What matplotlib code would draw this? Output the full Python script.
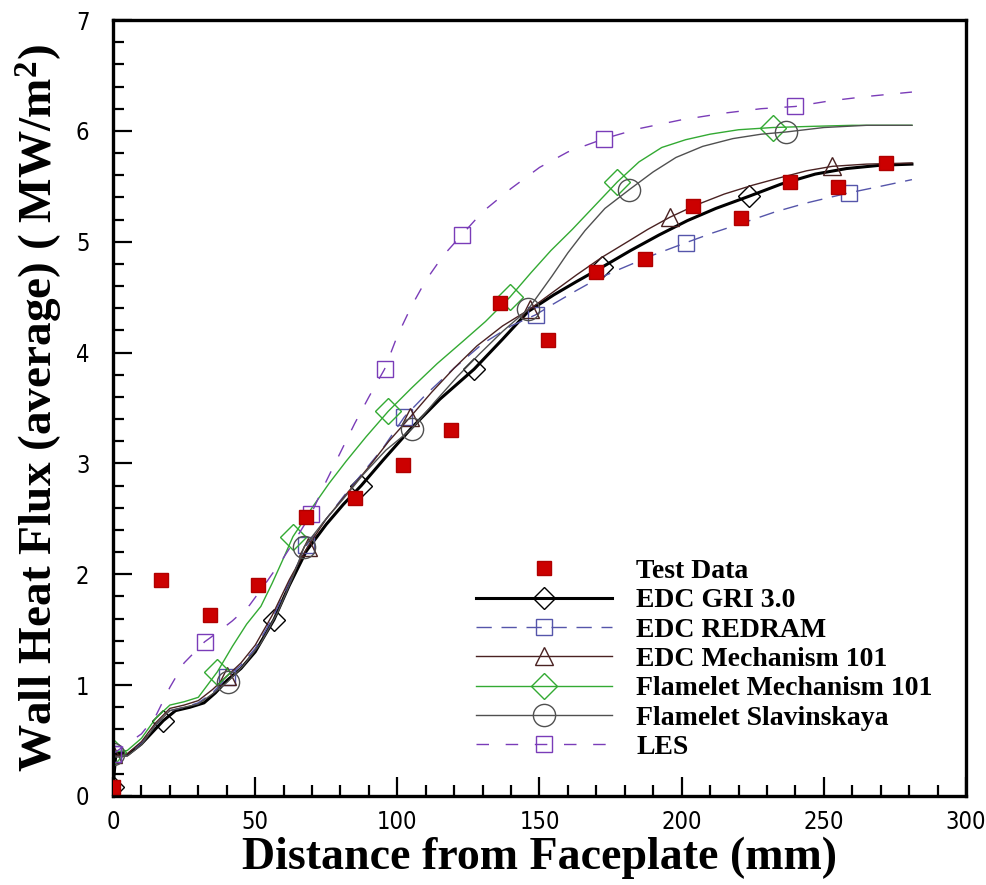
import matplotlib
matplotlib.use("Agg")
import matplotlib.pyplot as plt
from matplotlib.ticker import MultipleLocator

# Measured wall heat flux (red squares)
test_x = [0, 17, 34, 51, 68, 85, 102, 119, 136, 153, 170, 187, 204, 221, 238, 255, 272]
test_q = [0.08, 1.95, 1.63, 1.90, 2.52, 2.69, 2.99, 3.30, 4.45, 4.11, 4.73, 4.84, 5.32, 5.21, 5.54, 5.49, 5.71]

# EDC GRI 3.0
gri_x = [0, 1, 5, 10, 17.7, 22, 27, 32, 36, 40, 45, 50, 56.6, 62, 68, 75, 81, 87.3, 95, 105,
         115, 127, 137, 146, 155, 163, 172, 182, 192, 202, 212, 223.7, 235, 247, 258, 270, 281]
gri_q = [0.08, 0.38, 0.37, 0.47, 0.68, 0.77, 0.80, 0.84, 0.93, 1.04, 1.15, 1.30, 1.59, 1.90, 2.21, 2.45, 2.63, 2.80, 3.03, 3.32,
         3.58, 3.85, 4.12, 4.37, 4.52, 4.64, 4.77, 4.92, 5.06, 5.19, 5.30, 5.41, 5.52, 5.61, 5.66, 5.69, 5.70]
gri_marks = [0, 4, 12, 17, 21, 26, 31]

# EDC REDRAM
redram_x = [0, 1, 5, 10, 15, 20, 25, 30, 35, 40, 45, 50, 56, 62, 68, 75, 81, 88, 95, 102.5,
            110, 120, 130, 140, 148.6, 155, 163, 170, 178, 190, 201.4, 211, 221.6, 233, 244, 258.7, 270, 281]
redram_q = [0.38, 0.36, 0.37, 0.48, 0.64, 0.77, 0.80, 0.84, 0.93, 1.07, 1.18, 1.33, 1.60, 1.93, 2.26, 2.50, 2.70, 2.92, 3.14, 3.42,
            3.62, 3.86, 4.08, 4.24, 4.34, 4.44, 4.56, 4.66, 4.75, 4.88, 4.99, 5.08, 5.17, 5.27, 5.35, 5.44, 5.50, 5.56]
redram_marks = [0, 9, 14, 19, 24, 30, 35]

# EDC Mechanism 101
edc101_x = [0, 1, 5, 10, 15, 20, 25, 30, 35, 40, 45, 50, 56, 62, 68.5, 75, 82, 90, 97, 104.6,
            112, 120, 128, 137, 146.5, 155, 163, 172, 181, 188, 195.8, 205, 215, 225, 235, 244, 253, 265, 281]
edc101_q = [0.38, 0.36, 0.38, 0.49, 0.66, 0.79, 0.82, 0.86, 0.96, 1.08, 1.20, 1.36, 1.63, 1.95, 2.25, 2.50, 2.72, 2.97, 3.20, 3.42,
            3.64, 3.86, 4.06, 4.24, 4.39, 4.55, 4.70, 4.86, 5.00, 5.11, 5.22, 5.33, 5.43, 5.51, 5.58, 5.64, 5.68, 5.70, 5.71]
edc101_marks = [0, 9, 14, 19, 24, 30, 36]

# Flamelet Mechanism 101
flm101_x = [0, 1, 5, 10, 15, 20, 25, 30, 36.7, 42, 47, 52, 56, 59.7, 63.3, 70, 76, 82, 89, 96.8,
            105, 114, 123, 131, 139.6, 147, 154, 161.5, 170, 177.4, 185, 193, 201.4, 210, 220, 232, 245, 260, 281]
flm101_q = [0.40, 0.40, 0.41, 0.52, 0.70, 0.82, 0.85, 0.89, 1.12, 1.35, 1.55, 1.71, 1.92, 2.13, 2.34, 2.60, 2.82, 3.02, 3.24, 3.47,
            3.68, 3.90, 4.10, 4.28, 4.50, 4.72, 4.92, 5.11, 5.34, 5.54, 5.72, 5.85, 5.92, 5.97, 6.01, 6.03, 6.04, 6.05, 6.05]
flm101_marks = [0, 8, 14, 19, 24, 29, 35]

# Flamelet Slavinskaya
slav_x = [0, 1, 5, 10, 15, 20, 25, 30, 35, 40.3, 46, 52, 58, 63, 67.3, 74, 81, 88, 96, 105,
          113, 121, 129, 137, 146, 154.4, 160, 166, 173, 181.6, 190, 198, 207.4, 218, 228, 236.8, 250, 265, 281]
slav_q = [0.38, 0.35, 0.36, 0.46, 0.64, 0.77, 0.80, 0.83, 0.92, 1.03, 1.18, 1.38, 1.66, 1.96, 2.25, 2.47, 2.68, 2.90, 3.12, 3.31,
          3.55, 3.78, 3.99, 4.19, 4.39, 4.69, 4.90, 5.10, 5.30, 5.47, 5.63, 5.76, 5.86, 5.93, 5.97, 5.99, 6.03, 6.05, 6.05]
slav_marks = [0, 9, 14, 19, 24, 29, 35]

# LES
les_x = [0, 5, 10, 15, 20, 25, 32.2, 37, 42, 48, 54, 60, 65, 69.6, 75, 80, 85, 90, 95.5, 100,
         105, 110, 116, 122.6, 130, 140, 150, 160, 172.8, 185, 200, 215, 228, 240, 252, 265, 281]
les_q = [0.38, 0.47, 0.56, 0.72, 0.98, 1.20, 1.39, 1.48, 1.58, 1.72, 1.93, 2.15, 2.35, 2.54, 2.84, 3.10, 3.36, 3.60, 3.85, 4.15,
         4.42, 4.65, 4.87, 5.06, 5.27, 5.48, 5.67, 5.81, 5.93, 6.02, 6.10, 6.16, 6.20, 6.22, 6.27, 6.31, 6.35]
les_marks = [0, 6, 13, 18, 23, 28, 33]

SERIF = ["Liberation Serif", "DejaVu Serif"]
plt.rcParams["mathtext.fontset"] = "custom"
plt.rcParams["mathtext.rm"] = "Liberation Serif:bold"
plt.rcParams["mathtext.it"] = "Liberation Serif:bold"
plt.rcParams["mathtext.bf"] = "Liberation Serif:bold"

fig = plt.figure(figsize=(9.87, 8.85), dpi=100)
ax = fig.add_axes([0.1145, 0.1006, 0.8642, 0.8768])

ax.plot(test_x, test_q, "s", color="#cc0000", markeredgecolor="#b00000",
        markersize=10, linestyle="none", label="Test Data", zorder=5)
ax.plot(gri_x, gri_q, "-", color="black", linewidth=2.2, marker="D", markersize=11,
        markerfacecolor="none", markeredgewidth=1.0, markevery=gri_marks, label="EDC GRI 3.0")
ax.plot(redram_x, redram_q, "--", color="#5555aa", linewidth=1.0, dashes=(11, 7), marker="s",
        markersize=12, markerfacecolor="none", markeredgewidth=1.0, markevery=redram_marks,
        label="EDC REDRAM")
ax.plot(edc101_x, edc101_q, "-", color="#4a2222", linewidth=1.0, marker="^", markersize=13,
        markerfacecolor="none", markeredgewidth=1.0, markevery=edc101_marks, label="EDC Mechanism 101")
ax.plot(flm101_x, flm101_q, "-", color="#33aa33", linewidth=1.0, marker="D", markersize=13,
        markerfacecolor="none", markeredgewidth=1.0, markevery=flm101_marks,
        label="Flamelet Mechanism 101")
ax.plot(slav_x, slav_q, "-", color="#505050", linewidth=1.0, marker="o", markersize=16,
        markerfacecolor="none", markeredgewidth=1.0, markevery=slav_marks, label="Flamelet Slavinskaya")
ax.plot(les_x, les_q, "--", color="#7a3cb8", linewidth=1.0, dashes=(9, 12), marker="s",
        markersize=12, markerfacecolor="none", markeredgewidth=1.0, markevery=les_marks, label="LES")

ax.set_xlim(0, 300)
ax.set_ylim(0, 7)
ax.xaxis.set_major_locator(MultipleLocator(50))
ax.xaxis.set_minor_locator(MultipleLocator(10))
ax.yaxis.set_major_locator(MultipleLocator(1))
ax.yaxis.set_minor_locator(MultipleLocator(0.2))
ax.tick_params(which="both", direction="in", top=False, right=False, width=1.6)
ax.tick_params(which="major", length=14)
ax.tick_params(which="minor", length=8)
ax.tick_params(axis="x", which="major", pad=10)
ax.tick_params(axis="y", which="major", pad=17)
for spine in ax.spines.values():
    spine.set_linewidth(2.4)

for lab in ax.get_xticklabels() + ax.get_yticklabels():
    lab.set_fontfamily("DejaVu Sans")
    lab.set_fontstretch("condensed")
    lab.set_fontsize(17)

ax.set_xlabel("Distance from Faceplate (mm)", family=SERIF, fontweight="bold", fontsize=33, labelpad=2)
ax.set_ylabel("Wall Heat Flux (average) ( MW/m$^2$)", family=SERIF, fontweight="bold",
              fontsize=34, labelpad=8)

ax.legend(loc="upper left", bbox_to_anchor=(0.4256, 0.306), frameon=False, borderpad=0,
          borderaxespad=0, handlelength=4.9, handletextpad=0.86, labelspacing=0.14,
          prop={"family": SERIF, "weight": "bold", "size": 20})

fig.savefig("out.png", dpi=100)
